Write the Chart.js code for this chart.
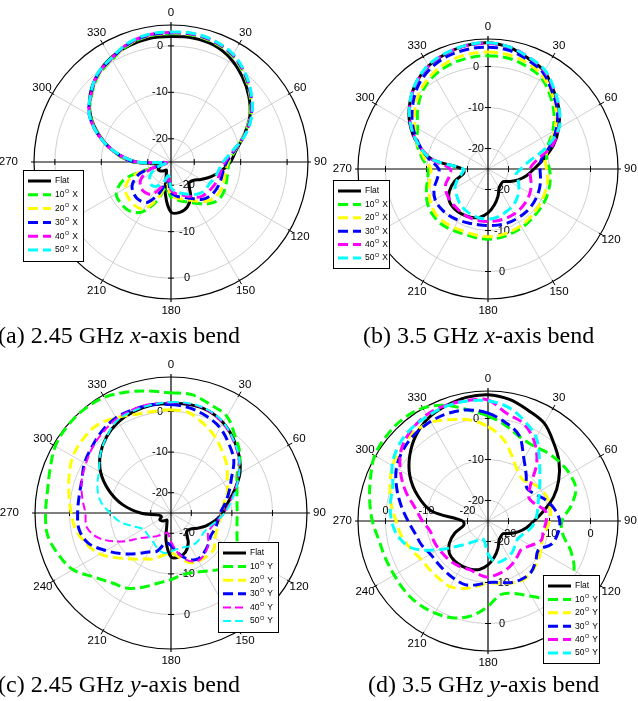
<!DOCTYPE html>
<html>
<head>
<meta charset="utf-8">
<title>Radiation patterns under bending</title>
<script src="https://cdn.jsdelivr.net/npm/chart.js@4.4.1/dist/chart.umd.min.js"></script>
<style>
  html, body { margin: 0; padding: 0; background: #fff; }
  #page { position: relative; width: 638px; height: 701px; overflow: hidden; }
  #page canvas { position: absolute; }
  .caption {
    position: absolute;
    font-family: "Liberation Serif", "Times New Roman", serif;
    font-size: 24px;
    line-height: 24px;
    white-space: nowrap;
    color: #000;
  }
</style>
</head>
<body>
<div id="page">
  <canvas id="chartA" width="335" height="335" style="left:0px; top:0px"></canvas>
  <canvas id="chartB" width="320" height="335" style="left:318px; top:0px"></canvas>
  <canvas id="chartC" width="335" height="351" style="left:0px; top:350px"></canvas>
  <canvas id="chartD" width="320" height="351" style="left:318px; top:350px"></canvas>
  <div class="caption" style="left:-2px; top:323px">(a) 2.45 GHz <i>x</i>-axis bend</div>
  <div class="caption" style="left:363px; top:323px">(b) 3.5 GHz <i>x</i>-axis bend</div>
  <div class="caption" style="left:-2px; top:672px">(c) 2.45 GHz <i>y</i>-axis bend</div>
  <div class="caption" style="left:368px; top:672px">(d) 3.5 GHz <i>y</i>-axis bend</div>
</div>
<script>
// measurement angles (deg, clockwise from broadside), one sample every 10 deg
const angles = [0, 10, 20, 30, 40, 50, 60, 70, 80, 90, 100, 110, 120, 130, 140, 150, 160, 170,
                180, 190, 200, 210, 220, 230, 240, 250, 260, 270, 280, 290, 300, 310, 320, 330, 340, 350];
const angleTicks = [0, 30, 60, 90, 120, 150, 180, 210, 240, 270, 300, 330];
const radialTicks = [-20, -10, 0];
const bends = [10, 20, 30, 40, 50];
const bendColors = ['#00ff00', '#ffff00', '#0000ff', '#ff00ff', '#00ffff'];

// normalised gain (dB), flat antenna
const flat245 = [
   2.0,   2.1,   1.8,   0.7,  -1.1,  -3.1,  -5.4,  -8.3, -10.8,
 -12.2, -14.0, -15.8, -17.5, -18.8, -19.0, -16.5, -14.7, -14.0,
 -14.2, -18.0, -22.0, -23.0, -22.5, -22.0, -21.8, -22.5, -22.0,
 -17.5, -12.8,  -8.7,  -5.0,  -2.3,  -0.4,   0.9,   1.6,   2.0];
const flat35 = [
   5.8,   5.1,   3.7,   2.5,  -0.1,  -2.4,  -5.1,  -8.0, -11.3,
 -13.8, -15.5, -17.2, -18.9, -20.2, -20.1, -19.6, -17.9, -16.1,
 -14.3, -13.0, -12.5, -12.3, -12.3, -12.7, -14.1, -16.4, -19.0,
 -18.8, -11.0,  -6.7,  -3.0,  -0.1,   2.3,   4.0,   4.9,   5.6];

// 2.45 GHz, bent about x
const x245b10 = [
   2.6,   2.7,   2.3,   1.4,  -0.5,  -2.8,  -5.3,  -8.4, -11.0,
 -12.5, -12.6, -12.3, -11.9, -12.0, -13.2, -14.8, -15.9, -16.7,
 -17.4, -19.5, -16.0, -12.6, -11.2, -11.0, -11.4, -14.5, -23.0,
 -16.8, -12.6,  -8.6,  -4.9,  -2.7,  -0.7,   0.4,   1.8,   2.5];
const x245b20 = [
   2.7,   2.8,   2.4,   1.5,  -0.4,  -2.7,  -5.2,  -8.3, -11.1,
 -12.7, -13.1, -12.9, -12.7, -12.9, -13.9, -15.4, -16.4, -17.1,
 -17.9, -20.0, -16.6, -13.3, -12.8, -13.0, -13.6, -16.2, -23.2,
 -16.9, -12.6,  -8.5,  -4.8,  -2.6,  -0.6,   0.5,   1.9,   2.6];
const x245b30 = [
   2.8,   2.9,   2.5,   1.6,  -0.3,  -2.6,  -5.1,  -8.2, -11.2,
 -13.0, -13.6, -13.6, -13.6, -13.8, -14.5, -15.9, -16.9, -17.5,
 -18.4, -21.0, -18.0, -15.0, -14.3, -14.5, -15.4, -18.0, -23.5,
 -17.0, -12.7,  -8.5,  -4.7,  -2.5,  -0.5,   0.6,   2.0,   2.7];
const x245b40 = [
   2.9,   3.0,   2.6,   1.7,  -0.2,  -2.5,  -5.0,  -8.1, -11.4,
 -13.4, -14.1, -14.3, -14.5, -14.8, -15.2, -16.4, -17.4, -18.0,
 -19.0, -21.5, -19.5, -17.0, -16.4, -16.5, -17.5, -20.0, -24.0,
 -17.6, -12.8,  -8.5,  -4.7,  -2.5,  -0.4,   0.7,   2.1,   2.8];
const x245b50 = [
   3.0,   3.1,   2.7,   1.8,  -0.1,  -2.4,  -4.9,  -8.0, -11.6,
 -13.8, -14.6, -15.0, -15.5, -15.5, -16.0, -17.0, -17.8, -18.5,
 -19.5, -22.0, -20.5, -19.0, -18.5, -19.0, -20.0, -22.0, -24.0,
 -17.8, -12.9,  -8.5,  -4.7,  -2.4,  -0.3,   0.8,   2.2,   2.9];

// 3.5 GHz, bent about x
const x35b10 = [
   2.6,   2.5,   1.8,   0.8,  -1.5,  -4.0,  -6.8,  -9.6, -10.5,
 -10.0,  -9.6,  -9.3,  -9.1,  -9.0,  -8.8,  -8.5,  -8.3,  -8.0,
  -7.9,  -8.0,  -8.1,  -7.8,  -7.4,  -7.5,  -8.0,  -9.0, -10.0,
 -10.4,  -8.6,  -6.5,  -5.2,  -2.6,  -0.2,   1.3,   2.1,   2.5];
const x35b20 = [
   3.5,   3.3,   2.6,   1.4,  -0.9,  -3.3,  -6.3,  -9.2, -10.9,
 -10.7, -10.2, -10.0,  -9.8,  -9.6,  -9.3,  -9.0,  -8.8,  -8.6,
  -8.5,  -8.6,  -8.7,  -8.5,  -8.2,  -8.2,  -8.8,  -9.7, -10.6,
 -11.0,  -9.2,  -6.6,  -4.4,  -1.8,   0.4,   1.9,   2.9,   3.4];
const x35b30 = [
   4.7,   4.4,   3.3,   2.0,  -0.6,  -2.9,  -5.8,  -9.0, -11.8,
 -12.3, -12.0, -11.6, -11.3, -11.1, -11.0, -11.0, -11.0, -11.1,
 -11.2, -11.2, -11.0, -10.6, -10.2, -10.0, -10.1, -11.0, -12.5,
 -13.0, -10.3,  -7.0,  -3.8,  -1.0,   1.5,   3.2,   4.2,   4.6];
const x35b40 = [
   5.6,   5.2,   4.0,   2.6,   0.0,  -2.4,  -5.2,  -8.3, -13.0,
 -14.8, -14.5, -13.8, -13.2, -12.8, -12.5, -12.3, -12.2, -12.2,
 -12.2, -12.2, -12.3, -12.5, -12.8, -13.0, -13.3, -14.0, -15.5,
 -15.8, -11.0,  -6.8,  -3.2,  -0.2,   2.3,   4.0,   5.0,   5.5];
const x35b50 = [
   5.8,   5.2,   4.0,   2.8,   0.2,  -2.3,  -5.0, -10.0, -15.0,
 -17.0, -18.0, -17.2, -16.3, -15.4, -14.6, -14.0, -13.5, -13.0,
 -12.8, -12.9, -13.2, -13.6, -14.2, -15.0, -15.7, -17.0, -18.5,
 -19.0, -11.0,  -6.8,  -3.2,  -0.1,   2.4,   4.2,   5.1,   5.6];

// 2.45 GHz, bent about y
const y245b10 = [
   4.6,   4.6,   3.4,   2.5,  -0.4,  -2.8,  -6.2,  -7.7,  -8.5,
  -8.7,  -8.5,  -7.7,  -6.2,  -5.3,  -6.8,  -8.4,  -9.4,  -9.5,
  -8.6,  -7.5,  -5.6,  -3.6,  -2.5,  -0.4,   2.9,   4.6,   5.9,
   5.9,   5.9,   6.7,   7.9,   8.3,   8.3,   7.9,   6.7,   5.5];
const y245b20 = [
   0.4,   0.1,  -1.6,  -3.3,  -5.3,  -7.0,  -9.0, -10.2, -11.8,
 -12.4, -12.9, -13.0, -12.5, -11.2, -11.2, -11.3, -12.0, -14.0,
 -15.2, -14.5, -13.0, -11.9, -10.2,  -7.8,  -4.8,  -2.8,  -1.2,
  -0.4,   0.5,   1.7,   2.9,   3.3,   3.3,   2.1,   0.8,   0.4];
const y245b30 = [
   1.7,   1.3,   0.4,  -0.8,  -2.8,  -4.8,  -7.8,  -9.8, -11.5,
 -12.9, -13.3, -13.5, -13.7, -13.0, -12.3, -11.9, -12.9, -15.0,
 -17.0, -17.5, -15.0, -13.9, -11.9,  -9.4,  -6.5,  -3.3,  -2.0,
  -2.0,  -2.0,  -1.6,  -0.4,   0.4,   1.4,   2.1,   2.1,   2.1];
const y245b40 = [
   2.2,   2.3,   1.8,   0.5,  -1.4,  -3.4,  -5.8,  -8.2, -10.3,
 -12.0, -13.5, -14.5, -14.5, -13.0, -12.0, -11.5, -12.5, -15.0,
 -18.0, -20.0, -19.5, -18.5, -17.3, -15.4, -11.0,  -6.5,  -4.0,
  -3.9,  -2.8,  -1.6,  -0.8,   0.2,   1.0,   1.8,   2.2,   2.3];
const y245b50 = [
   2.3,   2.4,   2.0,   0.8,  -1.2,  -3.2,  -5.6,  -8.0, -10.0,
 -11.8, -13.6, -15.0, -15.6, -15.5, -15.4, -15.6, -16.0, -16.0,
 -15.5, -15.0, -15.6, -16.5, -17.0, -17.2, -17.1, -15.3, -12.3,
 -10.0,  -7.3,  -5.7,  -4.5,  -2.3,  -0.4,   1.4,   1.8,   2.1];

// 3.5 GHz, bent about y
const y35b10 = [
   0.6,  -1.2,  -3.0,  -3.6,  -3.0,  -2.4,  -2.0,  -2.2,  -4.5,
  -7.0,  -6.5,  -3.5,  -0.8,   0.0,  -0.4,  -3.8,  -6.2,  -6.8,
  -4.2,  -1.5,   0.1,   0.9,   1.4,   1.5,   1.4,   1.6,   2.0,
   3.2,   4.3,   5.5,   6.9,   7.3,   7.4,   6.8,   5.0,   2.5];
const y35b20 = [
  -2.0,  -4.5,  -8.0, -10.7, -11.8, -10.8,  -9.8,  -9.5,  -9.5,
 -10.0, -10.8, -11.0, -10.2,  -9.3,  -8.6,  -8.3,  -8.9,  -9.6,
  -9.9,  -8.8,  -7.5,  -6.5,  -6.6,  -6.5,  -6.2,  -5.0,  -3.6,
  -2.6,  -1.0,   0.4,   1.9,   2.5,   3.2,   2.8,   1.3,   0.0];
const y35b30 = [
   1.3,  -0.6,  -2.8,  -7.5, -10.5, -12.6, -11.8, -10.0,  -8.5,
  -7.5,  -7.7,  -8.5, -10.8,  -9.8,  -8.7,  -8.6,  -9.0,  -9.8,
 -10.0,  -9.2,  -8.5,  -8.7,  -8.9,  -9.0,  -8.8,  -7.8,  -7.0,
  -5.5,  -3.5,  -1.3,   0.8,   2.0,   2.7,   3.0,   3.0,   2.5];
const y35b40 = [
   4.5,   1.6,   0.3,  -2.5,  -6.5, -11.5, -13.5, -12.8, -10.8,
 -10.8, -11.3, -11.2, -13.0, -14.3, -13.8, -13.0, -12.3, -11.8,
 -11.3, -11.8, -12.3, -12.0, -11.7, -11.5, -11.2, -10.9, -10.7,
  -9.0,  -7.0,  -3.6,  -0.3,   2.5,   4.0,   4.9,   5.0,   4.8];
const y35b50 = [
   4.3,   3.2,   1.0,  -1.5,  -5.5,  -8.5, -10.5, -12.0, -12.8,
 -13.5, -14.5, -15.8, -16.5, -16.3, -15.5, -15.0, -14.7, -14.8,
 -17.0, -20.0, -20.5, -19.5, -18.0, -15.5, -11.0,  -5.5,  -2.8,
  -1.5,  -0.8,  -0.3,   2.0,   3.5,   4.3,   4.5,   4.8,   4.7];

function makeDatasets(flat, bent, axis, thinLast) {
  const sets = [{ label: 'Flat', data: flat, borderColor: '#000', borderWidth: 3, borderDash: [], order: 6 }];
  bent.forEach((data, i) => {
    const thin = thinLast && i >= 3;
    sets.push({
      label: bends[i] + '° ' + axis,
      data: data,
      borderColor: bendColors[i],
      borderWidth: thin ? 2 : 3,
      borderDash: thin ? [8, 4] : [10, 5],
      order: 5 - i
    });
  });
  return sets;
}

// the sweep stops short of 360 deg: only the first half of the closing segment is stroked
function closingDash(c) {
  if (c.p1DataIndex !== 0) return undefined;
  const len = Math.hypot(c.p1.x - c.p0.x, c.p1.y - c.p0.y);
  return [len * 0.5, 1000];
}

// axes, labels and legend box drawn around the radial scale
const polarFrame = {
  id: 'polarFrame',
  beforeDatasetsDraw(chart, args, opts) {
    const s = chart.scales.r;
    const ctx = chart.ctx;
    const cx = s.xCenter, cy = s.yCenter, R = s.drawingArea;
    ctx.save();
    ctx.strokeStyle = '#000';
    ctx.lineWidth = 1.2;
    ctx.beginPath();
    ctx.moveTo(cx, cy - R - 3); ctx.lineTo(cx, cy + R + 3);
    ctx.moveTo(cx - R - 3, cy); ctx.lineTo(cx + R + 3, cy);
    ctx.stroke();

    ctx.lineWidth = 1;
    ctx.beginPath();
    radialTicks.forEach(v => {
      const d = s.getDistanceFromCenterForValue(v);
      ctx.moveTo(cx - 3, cy - d); ctx.lineTo(cx + 3, cy - d);
      ctx.moveTo(cx - 3, cy + d); ctx.lineTo(cx + 3, cy + d);
      ctx.moveTo(cx - d, cy - 3); ctx.lineTo(cx - d, cy + 3);
      ctx.moveTo(cx + d, cy - 3); ctx.lineTo(cx + d, cy + 3);
    });
    angleTicks.forEach(a => {
      if (a % 90 === 0) return;
      const i = angles.indexOf(a);
      const p1 = s.getPointPosition(i, R - 2);
      const p2 = s.getPointPosition(i, R + 4);
      ctx.moveTo(p1.x, p1.y); ctx.lineTo(p2.x, p2.y);
    });
    ctx.stroke();

    ctx.fillStyle = '#000';
    ctx.textBaseline = 'middle';
    ctx.textAlign = 'center';
    ctx.font = '11px "Liberation Sans", Arial, sans-serif';
    radialTicks.forEach(v => {
      const d = s.getDistanceFromCenterForValue(v);
      ctx.fillText(String(v), cx + opts.upperDx, cy - d);
      ctx.fillText(String(v), cx + opts.lowerDx, cy + d);
      if (opts.hLabels) {
        ctx.fillText(String(v), cx - d, cy - 10);
        ctx.fillText(String(v), cx + d, cy + 13);
      }
    });

    ctx.font = '11.5px "Liberation Sans", Arial, sans-serif';
    angleTicks.forEach(a => {
      const i = angles.indexOf(a);
      if (a === 90 || a === 270) {
        const p = s.getPointPosition(i, R + (a === 90 ? 6 : opts.westGap));
        ctx.textAlign = a === 90 ? 'left' : 'right';
        ctx.fillText(String(a), p.x, p.y);
      } else {
        const p = s.getPointPosition(i, R + 12);
        ctx.textAlign = 'center';
        ctx.fillText(String(a), p.x, p.y);
      }
    });
    ctx.restore();
  },
  afterDraw(chart, args, opts) {
    const box = opts.legendBox;
    const ctx = chart.ctx;
    ctx.save();
    ctx.fillStyle = '#fff';
    ctx.fillRect(box.x, box.y, box.w, box.h);
    ctx.strokeStyle = '#000';
    ctx.lineWidth = 1;
    ctx.strokeRect(box.x + 0.5, box.y + 0.5, box.w, box.h);
    chart.data.datasets.forEach((ds, k) => {
      const y = box.y + 11 + k * box.step;
      ctx.beginPath();
      ctx.setLineDash(ds.borderDash);
      ctx.lineWidth = ds.borderWidth;
      ctx.strokeStyle = ds.borderColor;
      ctx.moveTo(box.x + 5, y);
      ctx.lineTo(box.x + 28, y);
      ctx.stroke();
      ctx.setLineDash([]);

      ctx.fillStyle = '#000';
      ctx.textAlign = 'left';
      ctx.textBaseline = 'middle';
      let x = box.x + 32;
      const m = /^(\d+)° (\w)$/.exec(ds.label);
      ctx.font = '8.5px "Liberation Sans", Arial, sans-serif';
      if (!m) {
        ctx.fillText(ds.label, x, y);
        return;
      }
      ctx.fillText(m[1], x, y);
      x += ctx.measureText(m[1]).width + 0.5;
      ctx.font = '5.5px "Liberation Sans", Arial, sans-serif';
      ctx.fillText('O', x, y - 3);
      x += ctx.measureText('O').width + 3;
      ctx.font = '8.5px "Liberation Sans", Arial, sans-serif';
      ctx.fillText(m[2], x, y);
    });
    ctx.restore();
  }
};

function polarChart(id, cfg) {
  const canvas = document.getElementById(id);
  const W = canvas.width, H = canvas.height;
  const ticks = [-25].concat(radialTicks, [cfg.max]);
  return new Chart(canvas, {
    type: 'radar',
    data: { labels: angles, datasets: cfg.datasets },
    options: {
      responsive: false,
      animation: false,
      devicePixelRatio: 1,
      layout: {
        padding: { left: cfg.cx - cfg.r, top: cfg.cy - cfg.r, right: W - cfg.cx - cfg.r, bottom: H - cfg.cy - cfg.r }
      },
      elements: {
        line: { tension: 0.35, fill: false, borderCapStyle: 'butt' },
        point: { radius: 0, hoverRadius: 0 }
      },
      datasets: {
        radar: {
          segment: { borderDash: closingDash }
        }
      },
      scales: {
        r: {
          min: -25,
          max: cfg.max,
          afterBuildTicks: sc => { sc.ticks = ticks.map(v => ({ value: v })); },
          ticks: { display: false },
          pointLabels: { display: false },
          grid: {
            circular: true,
            color: c => (c.index === ticks.length - 1 ? '#000' : '#c4c4c4'),
            lineWidth: c => (c.index === ticks.length - 1 ? 1.2 : 0.8)
          },
          angleLines: {
            color: '#c4c4c4',
            lineWidth: c => (c.index % 3 === 0 && c.index % 9 !== 0 ? 0.8 : 0)
          }
        }
      },
      plugins: {
        legend: { display: false },
        tooltip: { enabled: false },
        polarFrame: {
          upperDx: cfg.upperDx,
          lowerDx: cfg.lowerDx,
          westGap: cfg.westGap,
          hLabels: !!cfg.hLabels,
          legendBox: cfg.legendBox
        }
      }
    },
    plugins: [polarFrame]
  });
}

polarChart('chartA', {
  cx: 171, cy: 162, r: 137, max: 4.5, upperDx: -11, lowerDx: 16, westGap: 16,
  datasets: makeDatasets(flat245, [x245b10, x245b20, x245b30, x245b40, x245b50], 'X', false),
  legendBox: { x: 23, y: 170, w: 60, h: 91, step: 13.8 }
});
polarChart('chartB', {
  cx: 170, cy: 169, r: 130, max: 6.7, upperDx: -12, lowerDx: 14, westGap: 6,
  datasets: makeDatasets(flat35, [x35b10, x35b20, x35b30, x35b40, x35b50], 'X', false),
  legendBox: { x: 15, y: 180, w: 56, h: 88, step: 13.4 }
});
polarChart('chartC', {
  cx: 171, cy: 163, r: 136, max: 8.5, upperDx: -11, lowerDx: 16, westGap: 16,
  datasets: makeDatasets(flat245, [y245b10, y245b20, y245b30, y245b40, y245b50], 'Y', true),
  legendBox: { x: 218, y: 192, w: 60, h: 90, step: 13.6 }
});
polarChart('chartD', {
  cx: 170, cy: 171, r: 130, max: 6.7, upperDx: -12, lowerDx: 14, westGap: 6, hLabels: true,
  datasets: makeDatasets(flat35, [y35b10, y35b20, y35b30, y35b40, y35b50], 'Y', false),
  legendBox: { x: 225, y: 225, w: 56, h: 88, step: 13.4 }
});
</script>
</body>
</html>
